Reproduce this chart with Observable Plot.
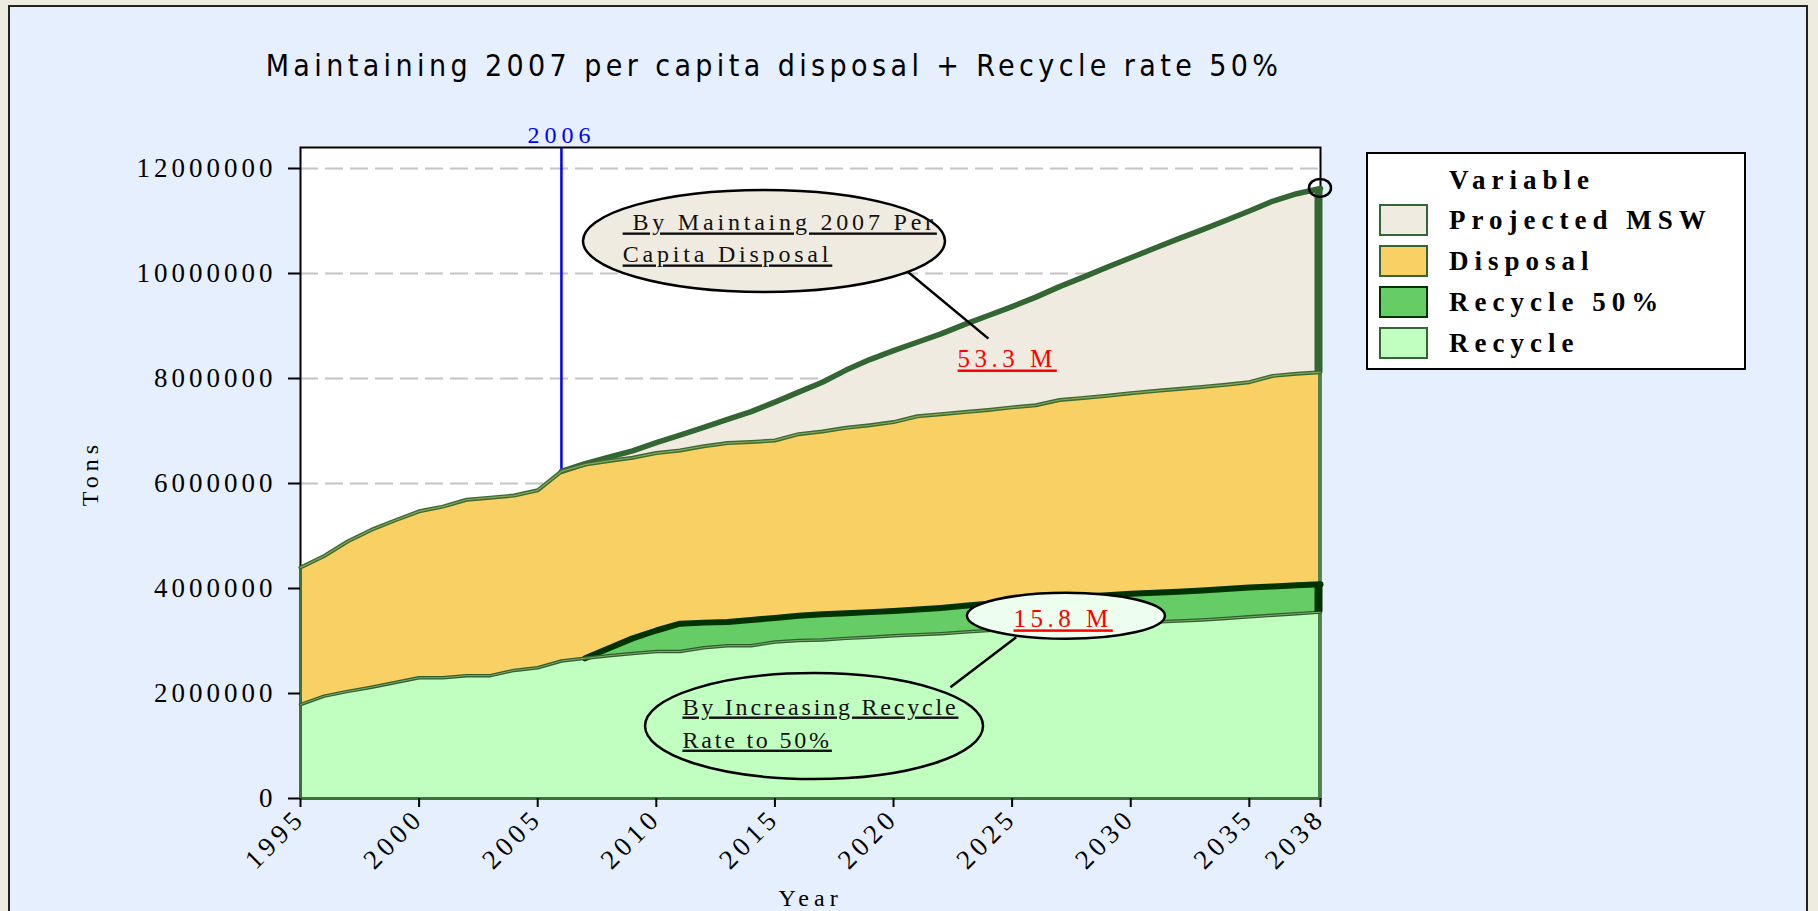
<!DOCTYPE html>
<html>
<head>
<meta charset="utf-8">
<script src="https://cdn.jsdelivr.net/npm/d3@7"></script>
<script src="https://cdn.jsdelivr.net/npm/@observablehq/plot@0.6"></script>
<style>
  html, body { margin: 0; padding: 0; background: #EEEBE0; width: 1818px; height: 911px; overflow: hidden; }
  #panel { position: absolute; left: 8px; top: 5px; width: 1796px; height: 1000px; border: 2px solid #222; background: #E5EFFD; }
  #chart { position: absolute; left: 0; top: 0; }
  #title { position: absolute; left: 0; width: 1548px; top: 51px; text-align: center; font-family: "DejaVu Sans Condensed", "DejaVu Sans", sans-serif; font-stretch: condensed; font-size: 30px; line-height: 30px; letter-spacing: 4.4px; color: #000; white-space: nowrap; }
  #legend { position: absolute; left: 1366px; top: 152px; width: 376px; height: 214px; border: 2px solid #000; background: #fff; font-family: "Liberation Serif", serif; font-weight: bold; font-size: 27px; letter-spacing: 6px; line-height: 27px; }
  #legend .lab { position: absolute; left: 81px; white-space: nowrap; }
  #legend .sw { position: absolute; left: 11px; width: 45px; height: 28px; border: 2px solid #336633; }
  svg text { font-family: "Liberation Serif", serif; }
  g[aria-label="y-axis tick label"] text { letter-spacing: 4px; }
  g[aria-label="x-axis tick label"] text { letter-spacing: 4.5px; }
</style>
</head>
<body>
<div id="panel"></div>
<div id="chart"></div>
<div id="title">Maintaining 2007 per capita disposal + Recycle rate 50%</div>
<div id="legend"></div>
<script>
// ---------------- data (million tons) ----------------
const years = [1995,1996,1997,1998,1999,2000,2001,2002,2003,2004,2005,2006,2007,2008,2009,2010,2011,2012,2013,2014,2015,2016,2017,2018,2019,2020,2021,2022,2023,2024,2025,2026,2027,2028,2029,2030,2031,2032,2033,2034,2035,2036,2037,2038];
const recycle = [1.79,1.95,2.04,2.12,2.21,2.30,2.30,2.34,2.34,2.44,2.49,2.62,2.67,2.72,2.76,2.80,2.80,2.87,2.91,2.91,2.98,3.01,3.02,3.05,3.07,3.10,3.12,3.14,3.17,3.20,3.22,3.25,3.27,3.29,3.31,3.34,3.36,3.38,3.40,3.43,3.46,3.49,3.52,3.55];
const disposal = [4.40,4.62,4.90,5.12,5.30,5.47,5.56,5.69,5.73,5.77,5.87,6.23,6.36,6.43,6.49,6.58,6.63,6.71,6.77,6.79,6.82,6.94,6.99,7.06,7.11,7.17,7.28,7.32,7.36,7.40,7.45,7.49,7.59,7.63,7.67,7.72,7.76,7.80,7.84,7.88,7.93,8.05,8.09,8.12];
const projYears = [2006,2007,2008,2009,2010,2011,2012,2013,2014,2015,2016,2017,2018,2019,2020,2021,2022,2023,2024,2025,2026,2027,2028,2029,2030,2031,2032,2033,2034,2035,2036,2037,2038];
const projected = [6.23,6.38,6.50,6.62,6.78,6.92,7.07,7.22,7.37,7.55,7.74,7.93,8.16,8.36,8.53,8.69,8.85,9.03,9.20,9.37,9.55,9.75,9.93,10.12,10.30,10.48,10.66,10.83,11.01,11.19,11.38,11.52,11.62];
const r50Years = [2007,2008,2009,2010,2011,2012,2013,2014,2015,2016,2017,2018,2019,2020,2021,2022,2023,2024,2025,2026,2027,2028,2029,2030,2031,2032,2033,2034,2035,2036,2037,2038];
const recycle50 = [2.67,2.86,3.05,3.20,3.33,3.35,3.36,3.40,3.44,3.48,3.51,3.53,3.55,3.57,3.60,3.63,3.67,3.71,3.74,3.78,3.82,3.85,3.87,3.90,3.92,3.94,3.96,3.99,4.02,4.04,4.06,4.08];
const yTickValues = [0,2000000,4000000,6000000,8000000,10000000,12000000];
const gridValues = [2000000,4000000,6000000,8000000,10000000,12000000];
const xTickValues = [1995,2000,2005,2010,2015,2020,2025,2030,2035,2038];
const markerYear = [2006];
const seriesNames = ["Projected MSW","Disposal","Recycle 50%","Recycle"];
const seriesColors = ["#EFEBE1","#F8D064","#66CC66","#C1FFC1"];
const seriesBorders = ["#336633","#336633","#003300","#336633"];
const noteTexts = [" By Maintaing 2007 Per","Capita Disposal","By Increasing Recycle","Rate to 50%"];
const valueTexts = ["53.3 M","15.8 M"];

// ---------------- annotation layout (data space) ----------------
const notePos = [
  {x: 2008.58, y: 10.82e6, ls: 3.8}, {x: 2008.58, y: 10.21e6, ls: 3.8},
  {x: 2011.1, y: 1.60e6, ls: 2.8}, {x: 2011.1, y: 0.97e6, ls: 2.8}
];
const valuePos = [{x: 2022.7, y: 8.21e6, ls: 4.5}, {x: 2025.06, y: 3.26e6, ls: 4.5}];
const ellipseSpecs = [
  {x: 2014.56, y: 10.61e6, rx: 181, ry: 51, fill: "#EFEBE1"},
  {x: 2027.29, y: 3.47e6, rx: 99, ry: 23, fill: "#EEFEEE"},
  {x: 2016.67, y: 1.37e6, rx: 169, ry: 53, fill: "#C1FFC1"}
];
const leaders = [
  {x1: 2020.42, y1: 10.10e6, x2: 2024.0, y2: 8.76e6},
  {x1: 2025.17, y1: 3.07e6, x2: 2022.4, y2: 2.12e6}
];

// ---------------- tables ----------------
const toRows = (xs, vs) => xs.map((year, i) => ({year, v: vs[i] * 1e6}));
const recRows = toRows(years, recycle);
const dispRows = toRows(years, disposal);
const projRows = toRows(projYears, projected);
const r50Rows = toRows(r50Years, recycle50);
const last = a => a[a.length - 1];
const edgeProj = [{year: last(projYears), lo: last(disposal) * 1e6, hi: last(projected) * 1e6}];
const edgeR50 = [{year: last(r50Years), lo: last(recycle) * 1e6, hi: last(recycle50) * 1e6}];
const noteRows = noteTexts.map((t, i) => ({...notePos[i], t}));
const valueRows = valueTexts.map((t, i) => ({...valuePos[i], t}));
const topPoint = [{x: last(projYears), y: last(projected) * 1e6, rx: 11, ry: 9, fill: "none"}];

function ellipseMark(specs) {
  return (index, scales) => {
    const g = d3.create("svg:g");
    for (const e of specs) {
      g.append("ellipse")
        .attr("cx", scales.x(e.x)).attr("cy", scales.y(e.y))
        .attr("rx", e.rx).attr("ry", e.ry)
        .attr("fill", e.fill).attr("stroke", "#000").attr("stroke-width", 2.5);
    }
    return g.node();
  };
}

const plot = Plot.plot({
  width: 1818, height: 911,
  marginLeft: 300, marginRight: 498, marginTop: 147, marginBottom: 113,
  x: {domain: [1995, 2038]},
  y: {domain: [0, 12.4e6]},
  style: {background: "transparent", overflow: "visible"},
  marks: [
    Plot.frame({fill: "white"}),
    Plot.ruleY(gridValues, {stroke: "#C4C4C4", strokeWidth: 2, strokeDasharray: "18,7"}),
    Plot.ruleX(markerYear, {stroke: "#0000FF", strokeWidth: 2.5}),
    Plot.frame({stroke: "#000", strokeWidth: 2}),
    Plot.areaY(projRows, {x: "year", y: "v", fill: seriesColors[0]}),
    Plot.areaY(dispRows, {x: "year", y: "v", fill: seriesColors[1]}),
    Plot.areaY(r50Rows, {x: "year", y: "v", fill: seriesColors[2]}),
    Plot.areaY(recRows, {x: "year", y: "v", fill: seriesColors[3]}),
    Plot.ruleX([dispRows[0]], {x: "year", y1: 0, y2: "v", stroke: "#3F6F3A", strokeWidth: 3}),
    Plot.ruleX([last(dispRows)], {x: "year", y1: 0, y2: "v", stroke: "#4F7F4A", strokeWidth: 3, dx: -1}),
    Plot.ruleY([0], {stroke: "#3F6F3A", strokeWidth: 3}),
    Plot.line(projRows, {x: "year", y: "v", stroke: "#336633", strokeWidth: 5.5}),
    Plot.line(dispRows, {x: "year", y: "v", stroke: "#3A6B34", strokeWidth: 4}),
    Plot.line(dispRows, {x: "year", y: "v", stroke: "#8FA654", strokeWidth: 1.2}),
    Plot.line(r50Rows, {x: "year", y: "v", stroke: "#003300", strokeWidth: 6}),
    Plot.line(recRows, {x: "year", y: "v", stroke: "#2F5F2F", strokeWidth: 3.5}),
    Plot.line(recRows, {x: "year", y: "v", stroke: "#7FA86A", strokeWidth: 1}),
    Plot.ruleX(edgeProj, {x: "year", y1: "lo", y2: "hi", stroke: "#336633", strokeWidth: 8, dx: -2}),
    Plot.ruleX(edgeR50, {x: "year", y1: "lo", y2: "hi", stroke: "#003300", strokeWidth: 8, dx: -2}),
    Plot.axisY(yTickValues, {tickFormat: d3.format("d"), tickSize: 12, tickPadding: 12, fontSize: 27, strokeWidth: 2, label: null}),
    Plot.axisX(xTickValues, {tickFormat: d3.format("d"), tickSize: 9, tickPadding: 6, tickRotate: -45, fontSize: 27, strokeWidth: 2, label: null}),
    Plot.text(["Tons"], {frameAnchor: "left", dx: -210, rotate: -90, textAnchor: "middle", fontSize: 24}),
    Plot.text(["Year"], {frameAnchor: "bottom", dy: 107, lineAnchor: "bottom", fontSize: 24}),
    Plot.text(markerYear, {x: d => d, frameAnchor: "top", dy: -5, lineAnchor: "bottom", text: d => String(d), fill: "#0000FF", fontSize: 24}),
    Plot.link(leaders, {x1: "x1", y1: "y1", x2: "x2", y2: "y2", stroke: "#000", strokeWidth: 2.5}),
    ellipseMark(ellipseSpecs),
    ellipseMark(topPoint),
    Plot.text(noteRows, {x: "x", y: "y", text: "t", textAnchor: "start", lineAnchor: "bottom", fontSize: 24, fill: "#111"}),
    Plot.text(valueRows, {x: "x", y: "y", text: "t", textAnchor: "start", lineAnchor: "bottom", fontSize: 25, fill: "#FF0000"})
  ]
});
document.getElementById("chart").appendChild(plot);

// text styling that Plot has no option for: letter spacing and underline
const spacingFor = new Map([
  ...noteRows.map(d => [d.t, {ls: d.ls, u: true}]),
  ...valueRows.map(d => [d.t, {ls: d.ls, u: true}]),
  ["Tons", {ls: 5, u: false}], ["Year", {ls: 5, u: false}], ["2006", {ls: 5, u: false}]
]);
d3.select(plot).selectAll("text").each(function() {
  const s = spacingFor.get(this.textContent);
  if (!s) return;
  this.style.letterSpacing = s.ls + "px";
  if (s.u) this.style.textDecoration = "underline";
});

// ---------------- legend ----------------
const legend = d3.select("#legend");
legend.append("div").attr("class", "lab").style("top", (36 - 23) + "px").text("Variable");
seriesNames.forEach((name, i) => {
  const rowTop = 50 + i * 41;
  legend.append("div").attr("class", "sw")
    .style("top", rowTop + "px")
    .style("background", seriesColors[i])
    .style("border-color", seriesBorders[i]);
  legend.append("div").attr("class", "lab").style("top", (rowTop + 26 - 23) + "px").text(name);
});
</script>
</body>
</html>
